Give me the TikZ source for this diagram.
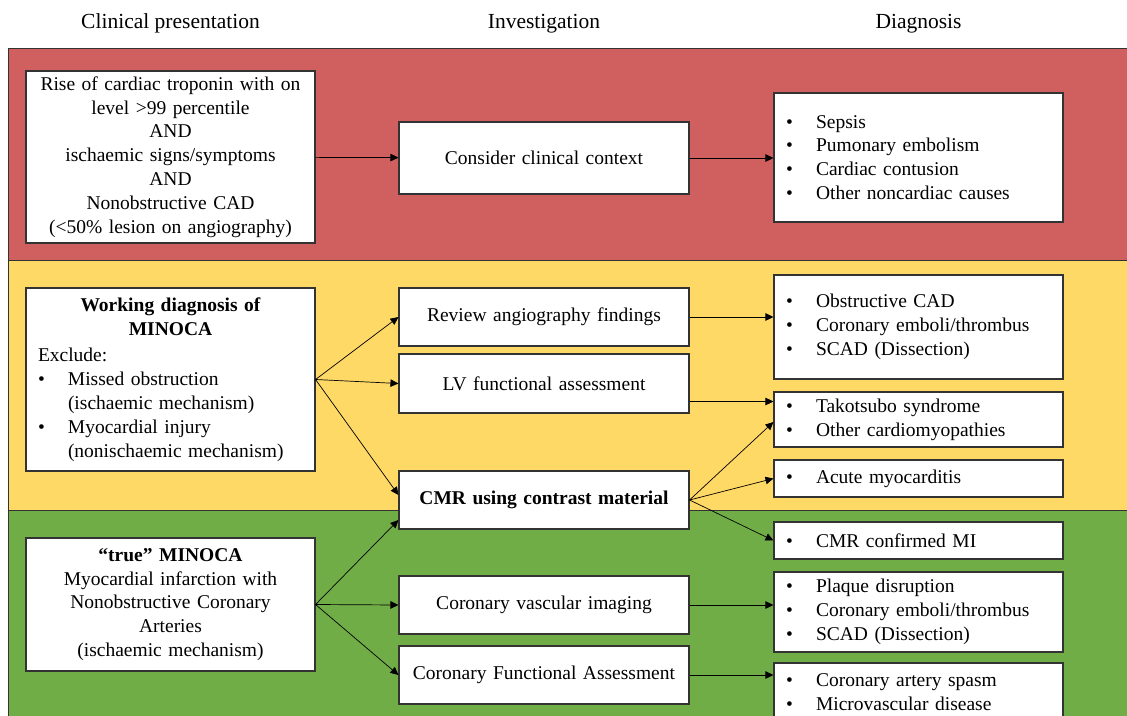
\documentclass[tikz,border=0pt]{standalone}
\usepackage{fontspec}
\setmainfont{Liberation Serif}
\usepackage{xcolor}
\usetikzlibrary{arrows.meta}

\definecolor{bandred}{HTML}{D05F5F}
\definecolor{bandyellow}{HTML}{FFD966}
\definecolor{bandgreen}{HTML}{70AD47}

\newcommand{\bitem}[1]{\makebox[30pt][l]{\textbullet}#1}
\newcommand{\bcont}[1]{\hspace*{30pt}#1}

\begin{document}
\begin{tikzpicture}[
  x=1pt, y=-1pt,
  font=\fontsize{19.5}{23.8}\selectfont,
  >={Triangle[length=8pt,width=7.5pt]},
  band/.style={draw=black!80, line width=0.9pt},
  box/.style={draw=black!80, fill=white, line width=1.1pt, inner xsep=12pt, inner ysep=3pt, text width=265pt},
  midbox/.style={box, align=center, text width=266pt},
  listbox/.style={box, align=left},
  head/.style={font=\fontsize{21.5}{26}\selectfont},
  arr/.style={->, line width=0.7pt}
]
\useasboundingbox (0,0) rectangle (1127,715);
\clip (0,0) rectangle (1127,715);
\fill[white] (0,0) rectangle (1127,715);

\node[head] (hclin) at (170.5,23.5) {Clinical presentation};
\node[head] (hinv) at (544,23.5) {Investigation};
\node[head] (hdiag) at (918.5,23.5) {Diagnosis};

\filldraw[band, fill=bandred] (8,48) rectangle (1140,260);
\filldraw[band, fill=bandyellow] (8,260) rectangle (1140,510);
\filldraw[band, fill=bandgreen] (8,510) rectangle (1140,730);

\node[box, align=center, minimum height=172pt] (rise) at (170.5,157)
  {Rise of cardiac troponin with on\\level >99 percentile\\AND\\ischaemic signs/symptoms\\AND\\Nonobstructive CAD\\(<50\% lesion on angiography)};
\node[midbox, minimum height=72pt] (ctx) at (544,158) {Consider clinical context};
\node[listbox, minimum height=129pt] (other) at (918.5,157.5)
  {\bitem{Sepsis}\\\bitem{Pumonary embolism}\\\bitem{Cardiac contusion}\\\bitem{Other noncardiac causes}};

\node[listbox, minimum height=183pt] (wd) at (170.5,379.5)
  {\makebox[\linewidth]{\bfseries Working diagnosis of}\\
   \makebox[\linewidth]{\bfseries MINOCA}\\[3pt]
   Exclude:\\
   \bitem{Missed obstruction}\\\bcont{(ischaemic mechanism)}\\
   \bitem{Myocardial injury}\\\bcont{(nonischaemic mechanism)}};
\node[midbox, minimum height=58pt] (review) at (544,317) {Review angiography findings};
\node[midbox, minimum height=59pt] (lv) at (544,383.5) {LV functional assessment};
\node[midbox, minimum height=58pt] (cmr) at (544,500) {\bfseries CMR using contrast material};
\node[listbox, minimum height=104pt] (obst) at (918.5,327)
  {\bitem{Obstructive CAD}\\\bitem{Coronary emboli/thrombus}\\\bitem{SCAD (Dissection)}};
\node[listbox, minimum height=55pt] (tako) at (918.5,419.5)
  {\bitem{Takotsubo syndrome}\\\bitem{Other cardiomyopathies}};
\node[listbox, minimum height=37pt] (myoc) at (918.5,478.5) {\bitem{Acute myocarditis}};

\node[box, align=center, minimum height=133pt] (tm) at (170.5,604.5)
  {\textbf{“true” MINOCA}\\Myocardial infarction with\\Nonobstructive Coronary\\Arteries\\(ischaemic mechanism)};
\node[midbox, minimum height=58pt] (vasc) at (544,605) {Coronary vascular imaging};
\node[midbox, minimum height=58pt] (func) at (544,675) {Coronary Functional Assessment};
\node[listbox, minimum height=37pt] (mi) at (918.5,540.5) {\bitem{CMR confirmed MI}};
\node[listbox, minimum height=80pt] (plaque) at (918.5,612)
  {\bitem{Plaque disruption}\\\bitem{Coronary emboli/thrombus}\\\bitem{SCAD (Dissection)}};
\node[listbox, minimum height=58pt] (spasm) at (918.5,692)
  {\bitem{Coronary artery spasm}\\\bitem{Microvascular disease}};

\draw[arr] (rise) -- (ctx);
\draw[arr] (ctx.east) -- (ctx.east -| other.west);

\draw[arr] (wd.east) -- (review.west);
\draw[arr] (wd.east) -- (lv.west);
\draw[arr] (wd.east) -- ([yshift=5pt]cmr.west);
\draw[arr] (review.east) -- (review.east -| obst.west);
\draw[arr] ([yshift=-18pt]lv.east) -- ([yshift=-18pt]lv.east -| tako.west);
\draw[arr] (cmr.east) -- ([yshift=-2.5pt]tako.west);
\draw[arr] (cmr.east) -- (myoc.west);
\draw[arr] (cmr.east) -- (mi.west);

\draw[arr] (tm.east) -- ([yshift=-20pt]cmr.west);
\draw[arr] (tm.east) -- (vasc.west);
\draw[arr] (tm.east) -- (func.west);
\draw[arr] (vasc.east) -- (vasc.east -| plaque.west);
\draw[arr] (func.east) -- (func.east -| spasm.west);
\end{tikzpicture}
\end{document}
